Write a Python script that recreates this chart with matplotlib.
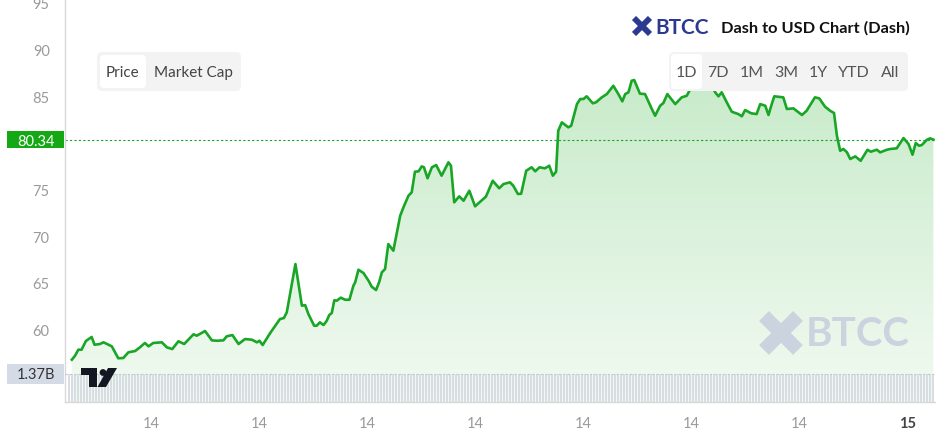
import numpy as np
import matplotlib
matplotlib.use('Agg')
import matplotlib.pyplot as plt
from matplotlib.patches import Rectangle, FancyBboxPatch, Polygon, Circle
from matplotlib.colors import LinearSegmentedColormap
from matplotlib.transforms import blended_transform_factory
from matplotlib.lines import Line2D

plt.rcParams['font.family'] = ['Lato', 'DejaVu Sans']

# hours since 00:00 on the 14th, and Dash price in USD
hours = [0.80, 0.89, 0.98, 1.07, 1.19, 1.35, 1.43, 1.58, 1.68, 1.91,
         2.09, 2.23, 2.37, 2.56, 2.69, 2.83, 2.93, 3.06, 3.30, 3.44,
         3.59, 3.76, 3.92, 4.18, 4.27, 4.50, 4.69, 4.83, 5.01, 5.10,
         5.26, 5.43, 5.61, 5.80, 5.94, 6.01, 6.10, 6.31, 6.58, 6.69,
         6.77, 7.01, 7.19, 7.28, 7.37, 7.53, 7.60, 7.69, 7.79, 7.88,
         7.95, 8.02, 8.09, 8.16, 8.27, 8.39, 8.51, 8.62, 8.67, 8.76,
         8.90, 9.04, 9.13, 9.25, 9.34, 9.41, 9.50, 9.59, 9.73, 9.92,
         10.01, 10.15, 10.24, 10.33, 10.43, 10.52, 10.58, 10.68, 10.80, 10.92,
         11.07, 11.26, 11.33, 11.42, 11.56, 11.68, 11.84, 12.00, 12.14, 12.30,
         12.49, 12.67, 12.79, 12.97, 13.06, 13.19, 13.28, 13.42, 13.57, 13.67,
         13.79, 13.94, 14.06, 14.16, 14.25, 14.31, 14.41, 14.59, 14.67, 14.83,
         14.92, 15.01, 15.10, 15.27, 15.36, 15.52, 15.66, 15.84, 15.98, 16.09,
         16.17, 16.26, 16.35, 16.42, 16.58, 16.72, 16.91, 17.00, 17.14, 17.23,
         17.34, 17.56, 17.74, 17.88, 17.93, 18.06, 18.25, 18.42, 18.56, 18.67,
         18.76, 18.85, 18.99, 19.13, 19.31, 19.41, 19.50, 19.67, 19.82, 19.92,
         20.06, 20.15, 20.24, 20.31, 20.56, 20.66, 20.84, 21.08, 21.21, 21.44,
         21.56, 21.72, 21.86, 21.97, 22.05, 22.14, 22.23, 22.33, 22.42, 22.56,
         22.71, 22.90, 22.99, 23.16, 23.25, 23.44, 23.53, 23.71, 23.90, 24.04,
         24.15, 24.24, 24.33, 24.41, 24.55, 24.64, 24.73]

price = [56.78, 57.21, 57.85, 57.85, 58.78, 59.21, 58.38, 58.46, 58.64, 58.21,
         56.93, 56.96, 57.57, 57.71, 58.10, 58.57, 58.21, 58.57, 58.64, 58.10,
         57.92, 58.75, 58.46, 59.50, 59.35, 59.85, 58.85, 58.81, 58.85, 59.28,
         59.42, 58.46, 58.99, 58.92, 58.64, 58.81, 58.35, 59.64, 61.13, 61.24,
         61.85, 67.02, 62.56, 62.63, 61.67, 60.42, 60.42, 60.78, 60.49, 60.95,
         61.56, 61.78, 63.14, 63.10, 63.42, 63.20, 63.20, 64.70, 65.06, 66.41,
         66.06, 65.24, 64.59, 64.24, 65.13, 66.13, 66.49, 69.16, 68.45, 72.19,
         73.09, 74.34, 74.70, 76.91, 76.95, 77.48, 77.38, 76.20, 77.38, 77.62,
         76.48, 77.91, 77.55, 73.63, 74.27, 73.80, 74.87, 73.20, 73.69, 74.23,
         75.94, 75.13, 75.59, 75.77, 75.41, 74.52, 74.55, 77.01, 77.38, 76.95,
         77.38, 77.27, 77.55, 76.48, 76.91, 81.30, 82.19, 81.66, 81.83, 84.15,
         84.69, 84.69, 84.98, 84.23, 84.34, 84.87, 85.22, 86.11, 85.22, 84.44,
         85.22, 85.41, 86.65, 86.72, 85.26, 85.22, 83.62, 82.90, 83.97, 84.26,
         85.22, 84.15, 84.87, 85.04, 85.41, 86.30, 85.97, 86.80, 86.20, 85.41,
         84.98, 85.41, 84.34, 83.33, 83.08, 82.84, 83.51, 83.16, 83.08, 84.15,
         83.97, 82.98, 84.15, 84.98, 84.87, 83.62, 83.69, 82.98, 83.44, 84.87,
         84.76, 83.87, 83.44, 83.19, 80.76, 79.15, 79.34, 78.98, 78.27, 78.55,
         78.08, 79.26, 79.05, 79.26, 78.98, 79.26, 79.34, 79.41, 80.51, 79.87,
         78.73, 79.98, 79.69, 79.77, 80.33, 80.48, 80.34]

# 24h volume (billions) per hour, 00h of the 14th to 00h of the 15th
vol_hour = [1.37, 1.37, 1.37, 1.37, 1.37, 1.37, 1.37, 1.37, 1.37, 1.37,
            1.37, 1.37, 1.37, 1.37, 1.37, 1.37, 1.37, 1.37, 1.37, 1.37,
            1.37, 1.37, 1.37, 1.37, 1.37]

price_ticks = [60, 65, 70, 75, 85, 90, 95]
time_ticks = [3, 6, 9, 12, 15, 18, 21, 24]
time_labels = ['14', '14', '14', '14', '14', '14', '14', '15']
ranges = ['1D', '7D', '1M', '3M', '1Y', 'YTD', 'All']

GREEN = '#19a626'
W, H = 937, 439

fig = plt.figure(figsize=(W / 100, H / 100), dpi=100)
fig.patch.set_facecolor('white')

# plot area: x 65..937 px, y 0..403 px
rect = [65 / W, (H - 403) / H, (937 - 65) / W, 403 / H]
ax = fig.add_axes(rect)
ax.set_facecolor('white')

x_lo, x_hi = 0.61, 24.83
y_lo, y_hi = 52.25, 95.4

# gradient area under the price line
fill = ax.fill_between(hours, price, y_lo, color='none', lw=0)
grad = np.linspace(0, 1, 256).reshape(-1, 1)
cmap = LinearSegmentedColormap.from_list('g', ['#f2faf2', '#c8ebca'])
im = ax.imshow(grad, extent=[x_lo, x_hi, y_lo, max(price)], origin='lower',
               aspect='auto', cmap=cmap, zorder=1, interpolation='bilinear')
im.set_clip_path(fill.get_paths()[0], transform=ax.transData)

ax.plot(hours, price, color=GREEN, lw=1.9, zorder=3, solid_joinstyle='round')
ax.axhline(price[-1], color=GREEN, lw=0.8, ls=(0, (2, 2)), zorder=2)

ax.set_xlim(x_lo, x_hi)
ax.set_ylim(y_lo, y_hi)
ax.set_yticks(price_ticks)
ax.set_yticklabels([str(v) for v in price_ticks])
ax.set_xticks(time_ticks)
ax.set_xticklabels(time_labels)
ax.tick_params(axis='y', length=0, pad=11, labelsize=10.5, labelcolor='#9a9a9a')
ax.tick_params(axis='x', length=0, pad=10, labelsize=10.5, labelcolor='#9a9a9a')
xl = ax.get_xticklabels()
xl[-1].set_color('#444444')
xl[-1].set_fontweight('bold')
for s in ['top', 'right']:
    ax.spines[s].set_visible(False)
ax.spines['left'].set_color('#d8d8d8')
ax.spines['bottom'].set_color('#d8d8d8')
ax.spines['left'].set_linewidth(1)
ax.spines['bottom'].set_linewidth(1)

# last price label
tr = blended_transform_factory(ax.transAxes, ax.transData)
box_w = 57 / 872
box_h = 17 / 9.34
ax.add_patch(Rectangle((-box_w - 1 / 872, price[-1] - box_h / 2), box_w, box_h,
                       transform=tr, fc='#14a814', ec='none', clip_on=False, zorder=5))
ax.text(-box_w / 2 - 1 / 872, price[-1] - 0.1, f'{price[-1]:.2f}', transform=tr,
        ha='center', va='center', color='white', fontsize=10.5, zorder=6)

# volume bars
axv = fig.add_axes(rect)
axv.patch.set_visible(False)
axv.axis('off')
v_top = vol_hour[-1] * 403 / 28
bar_t = np.arange(hours[0] - 0.08, hours[-1] + 0.03, 1 / 12)
bar_v = [vol_hour[int(t)] for t in bar_t]
axv.bar(bar_t, bar_v, width=0.03, color='#d7dde3', lw=0, antialiased=False)
axv.axhline(vol_hour[-1], color='#c4c8d0', lw=0.8, ls=(0, (2, 2)))
axv.set_xlim(x_lo, x_hi)
axv.set_ylim(0, v_top)
trv = blended_transform_factory(axv.transAxes, axv.transData)
vb_h = v_top / 403 * 20
axv.add_patch(Rectangle((-box_w - 1 / 872, vol_hour[-1] - vb_h / 2), box_w, vb_h,
                        transform=trv, fc='#d5dbe6', ec='none', clip_on=False, zorder=5))
axv.text(-box_w / 2 - 1 / 872, vol_hour[-1], f'{vol_hour[-1]:.2f}B', transform=trv,
         ha='center', va='center', color='#333333', fontsize=10.5, zorder=6)

# helpers in pixel space (origin top-left)
def px_box(x0, y0, x1, y1, color, r=4):
    fig.add_artist(FancyBboxPatch((x0 / 100, (H - y1) / 100), (x1 - x0) / 100, (y1 - y0) / 100,
                                  boxstyle=f'round,pad=0,rounding_size={r / 100}',
                                  fc=color, ec='none', transform=fig.dpi_scale_trans))

def px_text(x, y, s, **kw):
    fig.text(x / W, 1 - y / H, s, **kw)

def px_poly(pts, color):
    fig.add_artist(Polygon([(x / 100, (H - y) / 100) for x, y in pts], closed=True,
                           fc=color, ec='none', transform=fig.dpi_scale_trans))

def x_icon(cx, cy, s, color, lw):
    for dx in (-1, 1):
        fig.add_artist(Line2D([(cx - s) / 100, (cx + s) / 100],
                              [(H - cy + dx * s) / 100, (H - cy - dx * s) / 100],
                              color=color, lw=lw, solid_capstyle='butt',
                              transform=fig.dpi_scale_trans))
    d = s * 0.35
    px_poly([(cx - d, cy), (cx, cy - d), (cx + d, cy), (cx, cy + d)], 'white')

# Price / Market Cap toggle
px_box(97, 53, 241, 92, '#f3f3f3', r=5)
px_box(100, 56, 146, 89, 'white', r=4)
px_text(122, 73, 'Price', ha='center', va='center', fontsize=11, color='#444444')
px_text(193, 73, 'Market Cap', ha='center', va='center', fontsize=11, color='#444444')

# range buttons
px_box(669, 53, 908, 92, '#f3f3f3', r=5)
px_box(671, 55, 702, 90, 'white', r=4)
for lab, xc in zip(ranges, [686, 718, 752, 786, 818, 854, 890]):
    px_text(xc, 73, lab, ha='center', va='center', fontsize=11.5, color='#555555')

# header
x_icon(642, 27, 8, '#2b3990', 4.2)
px_text(655, 27.5, 'BTCC', ha='left', va='center', fontsize=15, fontweight='bold', color='#2b3990')
px_text(721, 28, 'Dash to USD Chart (Dash)', ha='left', va='center', fontsize=11.8,
        fontweight='bold', color='#111111')

# watermark
x_icon(781, 334, 17, '#cbd4de', 10)
px_text(806, 335, 'BTCC', ha='left', va='center', fontsize=29, fontweight='bold', color='#cbd4de')

# TradingView mark
px_poly([(81, 369), (97, 369), (97, 388), (89, 388), (89, 376), (81, 376)], '#131722')
fig.add_artist(Circle((103 / 100, (H - 373.5) / 100), 3.4 / 100, fc='#131722', ec='none',
                      transform=fig.dpi_scale_trans))
px_poly([(108, 369), (117, 369), (106, 388), (97.5, 388)], '#131722')

fig.savefig('out.png', dpi=100)
